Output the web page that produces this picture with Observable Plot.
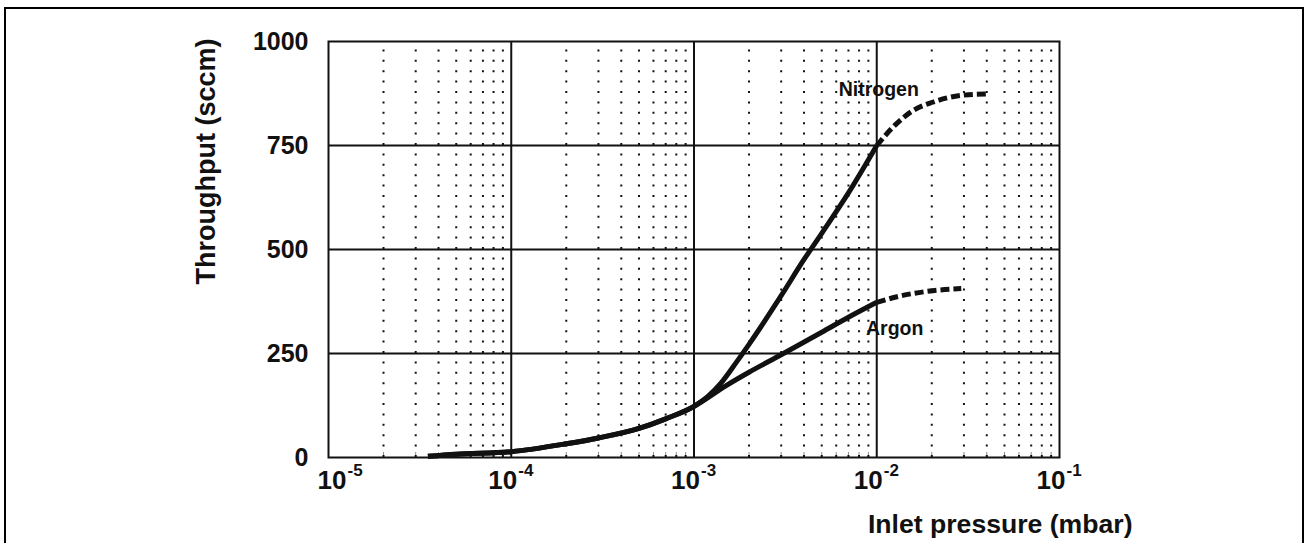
<!DOCTYPE html>
<html>
<head>
<meta charset="utf-8">
<script src="https://cdn.jsdelivr.net/npm/d3@7"></script>
<script src="https://cdn.jsdelivr.net/npm/@observablehq/plot@0.6"></script>
<style>
  html, body { margin: 0; padding: 0; background: #fff; }
  #wrap { position: relative; width: 1306px; height: 543px; overflow: hidden; }
  #border { position: absolute; left: 4px; top: 7px; width: 1300px; height: 600px;
            border: 2.5px solid #000; box-sizing: border-box; pointer-events: none; }
</style>
</head>
<body>
<div id="wrap"><div id="chart"></div><div id="border"></div></div>
<script>
// ---- data ----
const nitrogenP = [3.5e-5, 5e-5, 1e-4, 2e-4, 3e-4, 5e-4, 7e-4, 1e-3, 1.2e-3, 1.4e-3, 1.7e-3, 2e-3, 3e-3, 4e-3, 5e-3, 7e-3, 1e-2];
const nitrogenQ = [3, 8, 14, 33, 47, 70, 93, 123, 148, 178, 228, 272, 389, 476, 539, 636, 750];
const nitrogenDashP = [1e-2, 1.28e-2, 1.58e-2, 2.02e-2, 2.85e-2, 3.97e-2];
const nitrogenDashQ = [750, 802, 834, 854, 870, 874];
const argonP = [3.5e-5, 5e-5, 1e-4, 2e-4, 3e-4, 5e-4, 7e-4, 1e-3, 1.5e-3, 2e-3, 3e-3, 5e-3, 7e-3, 1e-2];
const argonQ = [3, 8, 14, 33, 47, 70, 93, 123, 173, 205, 247, 301, 337, 373];
const argonDashP = [1e-2, 1.34e-2, 2.03e-2, 2.9e-2];
const argonDashQ = [373, 388, 401, 406];

const seriesLabels = ["Nitrogen", "Argon"];
const labelP = [1.025e-2, 1.254e-2];
const labelQ = [885, 310];

const yTicks = [0, 250, 500, 750, 1000];
const yGrid = [250, 500, 750];
const xDecades = [1e-5, 1e-4, 1e-3, 1e-2, 1e-1];
const xGrid = [1e-4, 1e-3, 1e-2];
const xTickBase = ["10", "10", "10", "10", "10"];
const xTickExp = ["-5", "-4", "-3", "-2", "-1"];
const xTitle = "Inlet pressure (mbar)";
const yTitle = "Throughput (sccm)";

// ---- build tables ----
const toRows = (P, Q) => P.map((p, i) => ({p, q: Q[i]}));
const nitro = toRows(nitrogenP, nitrogenQ);
const nitroDash = toRows(nitrogenDashP, nitrogenDashQ);
const argon = toRows(argonP, argonQ);
const argonDash = toRows(argonDashP, argonDashQ);
const labels = seriesLabels.map((t, i) => ({t, p: labelP[i], q: labelQ[i]}));
const xLabels = xDecades.map((p, i) => ({p, base: xTickBase[i], exp: xTickExp[i], i}));

const xDomain = [1e-5, 1e-1];
const minor = d3.scaleLog().domain(xDomain).ticks()
  .filter(t => Math.abs(Math.log10(t) - Math.round(Math.log10(t))) > 1e-6);

const ink = "#111";
const font = "'Liberation Sans', Arial, Helvetica, sans-serif";

const chart = Plot.plot({
  width: 1306,
  height: 543,
  marginLeft: 328,
  marginRight: 247,
  marginTop: 41,
  marginBottom: 86,
  style: {fontFamily: font, fontWeight: "bold", background: "transparent", color: ink, overflow: "visible"},
  x: {type: "log", domain: xDomain, axis: null},
  y: {domain: [0, 1000], axis: null},
  marks: [
    // minor grid: dotted verticals + gray ticks
    Plot.ruleX(minor, {y1: 0, y2: 12, stroke: "#8a8a8a", strokeWidth: 1}),
    Plot.ruleX(minor, {y1: 0, y2: 1000, stroke: ink, strokeWidth: 2, strokeDasharray: "2,8.4"}),
    // major grid
    Plot.ruleX(xGrid, {stroke: ink, strokeWidth: 2}),
    Plot.ruleY(yGrid, {stroke: ink, strokeWidth: 2}),
    Plot.frame({stroke: ink, strokeWidth: 2}),
    // curves
    Plot.line(argon, {x: "p", y: "q", stroke: ink, strokeWidth: 5, curve: "monotone-x", strokeLinecap: "butt"}),
    Plot.line(nitro, {x: "p", y: "q", stroke: ink, strokeWidth: 5, curve: "monotone-x", strokeLinecap: "butt"}),
    Plot.line(argonDash, {x: "p", y: "q", stroke: ink, strokeWidth: 5, curve: "monotone-x",
      strokeDasharray: "9,4", strokeLinecap: "butt"}),
    Plot.line(nitroDash, {x: "p", y: "q", stroke: ink, strokeWidth: 5, curve: "monotone-x",
      strokeDasharray: "9,4", strokeLinecap: "butt"}),
    // series labels
    Plot.text(labels, {x: "p", y: "q", text: "t", fontSize: 19.5, fontWeight: "bold", fill: ink,
      textAnchor: "middle"}),
    // y axis
    Plot.axisY({ticks: yTicks, tickSize: 0, tickPadding: 20, fontSize: 25, fontWeight: "bold",
      tickFormat: d => String(d), label: null}),
    // x tick labels (10 with superscript exponent)
    Plot.text(xLabels.filter(d => d.i > 0), {x: "p", y: 0, text: "base", fontSize: 26, fontWeight: "bold",
      textAnchor: "end", lineAnchor: "bottom", dx: 6, dy: 31, fill: ink}),
    Plot.text(xLabels.filter(d => d.i > 0), {x: "p", y: 0, text: "exp", fontSize: 17, fontWeight: "bold",
      textAnchor: "start", lineAnchor: "bottom", dx: 7, dy: 18, fill: ink}),
    Plot.text(xLabels.filter(d => d.i === 0), {x: "p", y: 0, text: "base", fontSize: 26, fontWeight: "bold",
      textAnchor: "end", lineAnchor: "bottom", dx: 18, dy: 31, fill: ink}),
    Plot.text(xLabels.filter(d => d.i === 0), {x: "p", y: 0, text: "exp", fontSize: 17, fontWeight: "bold",
      textAnchor: "start", lineAnchor: "bottom", dx: 19, dy: 18, fill: ink}),
    // axis titles
    Plot.text([xTitle], {frameAnchor: "bottom-right", text: d => d, fontSize: 26.6, fontWeight: "bold",
      textAnchor: "end", lineAnchor: "bottom", dx: 73, dy: 75, fill: ink}),
    Plot.text([yTitle], {frameAnchor: "left", text: d => d, fontSize: 27, fontWeight: "bold",
      rotate: -90, textAnchor: "middle", lineAnchor: "middle", dx: -122, dy: -88, fill: ink})
  ]
});
document.getElementById("chart").appendChild(chart);
</script>
</body>
</html>
